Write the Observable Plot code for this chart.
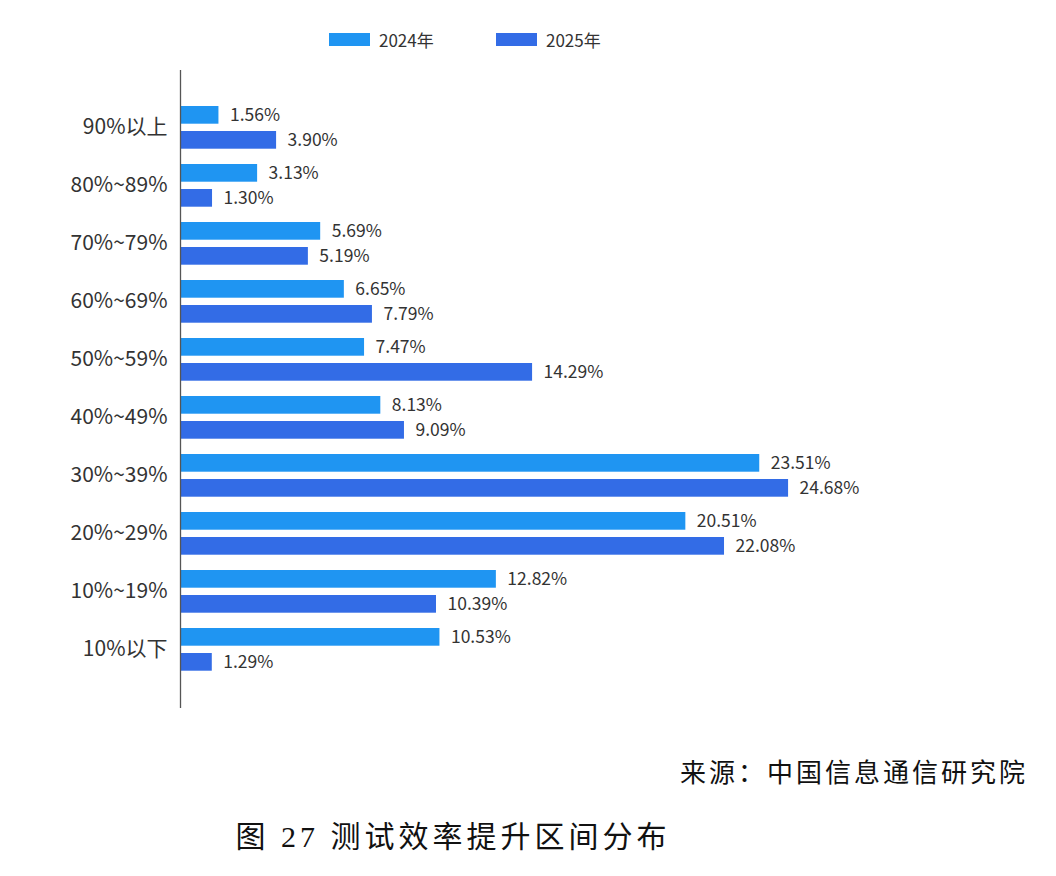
<!DOCTYPE html>
<html>
<head>
<meta charset="utf-8">
<script src="https://cdn.jsdelivr.net/npm/d3@7"></script>
<script src="https://cdn.jsdelivr.net/npm/@observablehq/plot@0.6"></script>
<style>
  html, body { margin: 0; padding: 0; background: #fff; }
  #wrap { position: relative; width: 1056px; height: 876px; overflow: hidden; font-family: "Noto Sans CJK SC", "Noto Sans", sans-serif; }
  #chart { position: absolute; left: 0; top: 0; }
  .legend { position: absolute; top: 26px; left: 0; width: 1056px; height: 26px; }
  .legend .item { position: absolute; top: 0; display: flex; align-items: center; height: 26px; font-size: 17px; color: #333; }
  .legend .sw { width: 41px; height: 13px; margin-right: 9px; }
  #source { position: absolute; right: 28px; top: 752px; font-size: 26px; letter-spacing: 3px; color: #111; white-space: nowrap; }
  #title { position: absolute; left: 0; width: 906px; text-align: center; top: 812px; font-size: 30px; letter-spacing: 4px; color: #111; white-space: nowrap; font-family: "Liberation Serif", "Noto Sans CJK SC", serif; }
</style>
</head>
<body>
<div id="wrap">
  <div class="legend" id="legend"></div>
  <div id="chart"></div>
  <div id="source">来源：中国信息通信研究院</div>
  <div id="title">图 27 测试效率提升区间分布</div>
</div>
<script>
const categories = ["90%以上", "80%~89%", "70%~79%", "60%~69%", "50%~59%", "40%~49%", "30%~39%", "20%~29%", "10%~19%", "10%以下"];
const values2024 = [1.56, 3.13, 5.69, 6.65, 7.47, 8.13, 23.51, 20.51, 12.82, 10.53];
const values2025 = [3.90, 1.30, 5.19, 7.79, 14.29, 9.09, 24.68, 22.08, 10.39, 1.29];
const seriesNames = ["2024年", "2025年"];
const colors = ["#1F95F2", "#336CE6"];

const d2024 = categories.map((c, i) => ({cat: c, value: values2024[i]}));
const d2025 = categories.map((c, i) => ({cat: c, value: values2025[i]}));

// legend
const legend = document.getElementById("legend");
const legendX = [329, 496];
seriesNames.forEach((name, i) => {
  const item = document.createElement("div");
  item.className = "item";
  item.style.left = legendX[i] + "px";
  const sw = document.createElement("div");
  sw.className = "sw";
  sw.style.background = colors[i];
  const t = document.createElement("span");
  t.textContent = name;
  item.appendChild(sw);
  item.appendChild(t);
  legend.appendChild(item);
});

const fmt = v => v.toFixed(2) + "%";

const chart = Plot.plot({
  width: 1056,
  height: 720,
  marginLeft: 180,
  marginRight: 235.4,
  marginTop: 70,
  marginBottom: 12,
  style: {fontFamily: '"Noto Sans CJK SC", "Noto Sans", sans-serif', background: "transparent"},
  x: {domain: [0, 26], axis: null},
  y: {domain: categories, paddingInner: 0, paddingOuter: 0.47, axis: null},
  marks: [
    Plot.barX(d2024, {x: "value", y: "cat", fill: colors[0], insetTop: 7, insetBottom: 33.3}),
    Plot.barX(d2025, {x: "value", y: "cat", fill: colors[1], insetTop: 32, insetBottom: 8.3}),
    Plot.ruleX([0], {stroke: "#555", strokeWidth: 1.3}),
    Plot.axisY({tickSize: 0, tickPadding: 13, fontSize: 21, fill: "#333", label: null, dy: -1}),
    Plot.text(d2024, {x: "value", y: "cat", text: d => fmt(d.value), dx: 11, dy: -13, textAnchor: "start", fontSize: 17.5, fill: "#333"}),
    Plot.text(d2025, {x: "value", y: "cat", text: d => fmt(d.value), dx: 11, dy: 12, textAnchor: "start", fontSize: 17.5, fill: "#333"})
  ]
});
document.getElementById("chart").appendChild(chart);
</script>
</body>
</html>
